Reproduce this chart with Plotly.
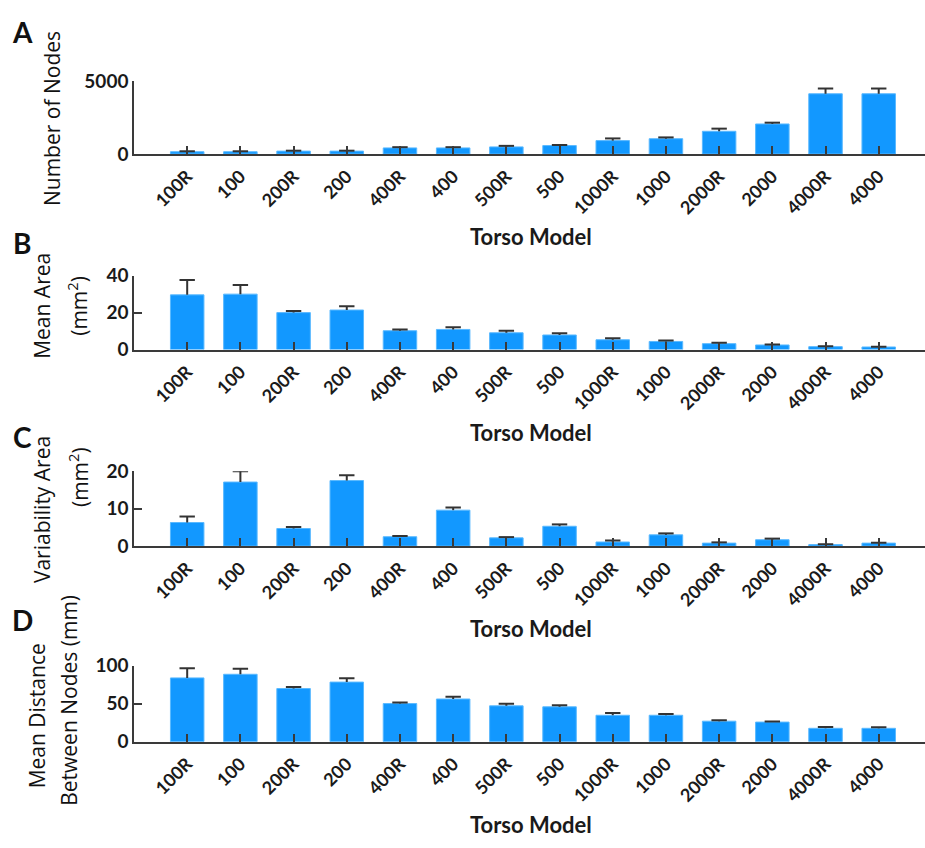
import plotly.graph_objects as go

W, H = 925, 848

# ---------------- data ----------------
models = ["100R", "100", "200R", "200", "400R", "400", "500R", "500",
          "1000R", "1000", "2000R", "2000", "4000R", "4000"]

num_nodes = [160, 160, 200, 200, 420, 420, 490, 580, 920, 1050, 1560, 2060, 4130, 4130]
num_nodes_err = [30, 30, 30, 30, 50, 50, 70, 40, 150, 90, 180, 90, 360, 360]

mean_area = [29.6, 30.0, 20.0, 21.4, 10.2, 10.9, 9.1, 7.9, 5.3, 4.4, 3.2, 2.5, 1.6, 1.4]
mean_area_err = [8.1, 4.9, 0.9, 2.1, 0.7, 1.2, 1.1, 0.9, 0.8, 0.5, 0.5, 0.3, 0.2, 0.2]

var_area = [6.3, 17.1, 4.7, 17.5, 2.5, 9.6, 2.2, 5.3, 1.1, 3.0, 0.8, 1.7, 0.4, 0.8]
var_area_err = [1.6, 2.9, 0.4, 1.4, 0.2, 0.7, 0.2, 0.5, 0.4, 0.4, 0.2, 0.3, 0.1, 0.1]

mean_dist = [84.0, 88.8, 70.0, 78.5, 50.2, 56.2, 47.2, 45.9, 34.8, 34.8, 27.0, 25.8, 17.6, 17.6]
mean_dist_err = [12.6, 7.3, 2.1, 5.2, 1.3, 3.0, 2.6, 2.2, 3.0, 1.7, 1.3, 0.8, 1.7, 1.3]

y_ranges = [[0, 5000], [0, 40], [0, 20], [0, 100]]
y_ticks = [[0, 5000], [0, 20, 40], [0, 10, 20], [0, 50, 100]]
panel_letters = ["A", "B", "C", "D"]
x_title = "Torso Model"

# ---------------- style ----------------
BAR = "rgb(18,152,255)"
BAR_EDGE = "rgb(90,185,255)"
DARK = "#333333"
AXIS = "#3a3a3a"
TXT = "#1a1a1a"
TICKFONT = dict(family="Lato", size=19, color=TXT, weight="bold")
XTICKFONT = dict(family="Lato", size=18, color=TXT, weight="bold")


def px_x(p):
    return p / W


def px_y(p):
    return 1 - p / H


# pixel geometry of each panel: (y of top tick, y of zero line)
panel_px = [(71, 146), (271, 347), (472, 549), (672, 750)]

fig = go.Figure()

series = [(num_nodes, num_nodes_err), (mean_area, mean_area_err),
          (var_area, var_area_err), (mean_dist, mean_dist_err)]

for i, (vals, errs) in enumerate(series):
    xa = "x" if i == 0 else f"x{i+1}"
    ya = "y" if i == 0 else f"y{i+1}"
    fig.add_trace(go.Bar(
        x=models, y=vals, xaxis=xa, yaxis=ya,
        width=0.63,
        marker=dict(color=BAR, line=dict(color=BAR_EDGE, width=1)),
        error_y=dict(type="data", symmetric=False, array=errs,
                     arrayminus=[0] * len(errs), width=0,
                     color=DARK, thickness=2),
        hoverinfo="skip", showlegend=False,
    ))
    tops = [v + e for v, e in zip(vals, errs)]
    fig.add_trace(go.Scatter(
        x=models, y=tops, xaxis=xa, yaxis=ya, mode="markers",
        marker=dict(symbol="line-ew", size=11,
                    line=dict(color=DARK, width=2)),
        hoverinfo="skip", showlegend=False,
    ))

layout = dict(
    width=W, height=H,
    margin=dict(l=0, r=0, t=0, b=0),
    paper_bgcolor="white", plot_bgcolor="white",
)

for i in range(4):
    top, zero = panel_px[i]
    xk = "xaxis" if i == 0 else f"xaxis{i+1}"
    yk = "yaxis" if i == 0 else f"yaxis{i+1}"
    ya = "y" if i == 0 else f"y{i+1}"
    xa = "x" if i == 0 else f"x{i+1}"
    layout[xk] = dict(
        domain=[px_x(134), 1.0], anchor=ya,
        type="category", range=[-1.0, 13.87],
        showline=True, linecolor=AXIS, linewidth=1.5,
        ticks="inside", ticklen=8, tickwidth=1.5, tickcolor=AXIS,
        tickangle=-45, tickfont=XTICKFONT, ticklabelstandoff=3,
        showgrid=False, zeroline=False, fixedrange=True,
    )
    layout[yk] = dict(
        domain=[px_y(zero), px_y(top)], anchor=xa,
        range=y_ranges[i], tickvals=y_ticks[i],
        showline=True, linecolor=AXIS, linewidth=1.5,
        ticks="inside", ticklen=8, tickwidth=1.5, tickcolor=AXIS,
        tickfont=TICKFONT,
        showgrid=False, zeroline=False, fixedrange=True,
    )

annotations = []
TITLEFONT = dict(family="Open Sans", size=21, color="#111111")


def ann(text, x, y, font, angle=0):
    annotations.append(dict(
        text=text, x=px_x(x), y=px_y(y), xref="paper", yref="paper",
        showarrow=False, textangle=angle, font=font,
        xanchor="center", yanchor="middle",
    ))


# panel letters
letter_pos = [(22, 21), (22, 237), (22, 437), (22, 625)]
for L, (x, y) in zip(panel_letters, letter_pos):
    ann(L, x, y, dict(family="Lato", size=28, color="#111111", weight="bold"))

# x titles
for i in range(4):
    ann(x_title, 531, panel_px[i][1] + 85,
        dict(family="Lato", size=22, color=TXT, weight="bold"))

# y titles
ann("Number of Nodes", 52, 110, TITLEFONT, -90)
ann("Mean Area", 42, 302, TITLEFONT, -90)
ann("(mm<sup>2</sup>)", 78, 302, TITLEFONT, -90)
ann("Variability Area", 42, 512, TITLEFONT, -90)
ann("(mm<sup>2</sup>)", 78, 478, TITLEFONT, -90)
ann("Mean Distance", 37, 724, TITLEFONT, -90)
ann("Between Nodes (mm)", 69, 708, TITLEFONT, -90)

layout["annotations"] = annotations
fig.update_layout(**layout)

fig.write_html("out.html")
